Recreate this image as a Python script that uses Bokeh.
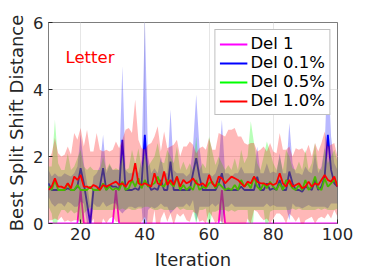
import numpy as np
from bokeh.plotting import figure
from bokeh.models import Legend, LegendItem, FixedTicker, Range1d
from bokeh.core.properties import value
from bokeh.embed import file_html
from bokeh.resources import INLINE

iterations = list(range(10, 101))

del1 = [0.0] * 91
for it in (20, 31, 64):
    del1[it - 10] = 1.0

del01 = [1.2, 1.0, 1.0, 1.0, 1.0, 1.0, 1.05, 1.0, 1.0, 1.1,
         1.65, 1.2, 0.6, 0.0, 1.0, 1.0, 1.1, 1.65, 1.0, 1.15,
         1.1, 1.1, 1.0, 2.5, 1.0, 1.0, 1.0, 1.05, 1.0, 1.2,
         2.65, 1.2, 1.0, 1.05, 1.0, 1.3, 1.0, 1.0, 1.85, 1.0,
         1.0, 1.0, 1.0, 1.0, 1.0, 1.5, 1.95, 1.4, 1.0, 1.0,
         1.0, 1.0, 1.0, 1.2, 1.5, 1.0, 1.0, 1.0, 1.0, 1.0,
         1.1, 1.0, 1.0, 1.0, 1.0, 1.4, 1.0, 1.0, 1.2, 1.0,
         1.05, 1.0, 1.3, 1.0, 1.0, 1.55, 1.2, 1.0, 1.0, 0.95,
         1.1, 1.05, 1.0, 1.3, 1.0, 1.1, 1.4, 2.65, 1.6, 1.2,
         1.1]
del05 = [1.1, 1.0, 1.3, 1.0, 1.0, 1.0, 1.2, 1.0, 1.0, 1.15,
         1.0, 1.0, 1.0, 1.1, 1.0, 1.0, 1.0, 1.2, 1.0, 1.1,
         1.0, 1.05, 1.0, 1.25, 1.0, 1.05, 1.3, 1.1, 1.35, 1.05,
         1.3, 1.1, 1.15, 1.2, 1.4, 1.15, 1.1, 1.3, 1.2, 1.1,
         1.4, 1.0, 1.15, 1.0, 1.1, 1.0, 1.3, 1.0, 1.1, 1.05,
         1.2, 1.25, 1.05, 1.2, 1.1, 1.0, 1.05, 1.0, 1.15, 1.0,
         1.3, 1.1, 1.2, 1.05, 1.4, 1.1, 1.0, 1.2, 1.05, 1.25,
         1.1, 1.0, 1.2, 1.0, 1.3, 1.2, 1.05, 1.0, 1.15, 1.0,
         1.3, 1.0, 1.1, 1.4, 1.05, 1.0, 1.35, 1.1, 1.2, 1.3,
         1.15]
del10 = [1.0, 1.1, 1.35, 1.1, 1.1, 1.05, 1.2, 1.05, 1.4, 1.3,
         1.45, 1.1, 1.1, 1.05, 1.15, 1.1, 1.0, 1.15, 1.1, 1.15,
         1.2, 1.25, 1.15, 1.2, 1.1, 1.25, 1.3, 1.8, 1.2, 1.15,
         1.2, 1.15, 1.1, 1.5, 1.2, 1.15, 1.55, 1.15, 1.3, 1.15,
         1.4, 1.1, 1.3, 1.2, 1.25, 1.35, 1.2, 1.15, 1.2, 1.1,
         1.45, 1.2, 1.1, 1.4, 1.35, 1.2, 1.3, 1.4, 1.35, 1.3,
         1.2, 1.1, 1.25, 1.2, 1.4, 1.25, 1.2, 1.2, 1.15, 1.2,
         1.15, 1.2, 1.5, 1.2, 1.1, 1.3, 1.1, 1.15, 1.2, 1.05,
         1.1, 1.25, 1.1, 1.2, 1.15, 1.3, 1.45, 1.3, 1.25, 1.4,
         1.1]

std01 = [0.4, 0.4, 0.5, 0.4, 0.4, 0.5, 0.4, 0.4, 0.5, 0.6,
         1.0, 0.6, 0.6, 0.5, 0.4, 0.5, 0.6, 1.0, 0.5, 0.6,
         0.5, 0.5, 0.6, 2.2, 0.6, 0.5, 0.5, 0.6, 0.5, 0.7,
         3.5, 0.8, 0.5, 0.6, 0.5, 0.7, 0.5, 0.5, 1.55, 0.6,
         0.5, 0.5, 0.5, 0.4, 0.5, 0.8, 1.9, 0.9, 0.5, 0.5,
         0.5, 0.4, 0.5, 0.6, 1.6, 0.5, 0.5, 0.4, 0.5, 0.5,
         0.6, 0.5, 0.5, 0.5, 0.5, 0.9, 0.5, 0.5, 0.6, 0.5,
         0.5, 0.5, 0.8, 0.5, 0.5, 1.45, 0.6, 0.5, 0.5, 0.5,
         0.6, 0.5, 0.5, 0.8, 0.5, 0.6, 0.9, 2.2, 1.0, 0.6,
         0.5]
std05 = [0.6, 0.7, 1.8, 0.8, 0.6, 0.6, 0.9, 0.6, 0.7, 0.8,
         1.2, 0.7, 0.6, 0.6, 0.6, 0.6, 0.6, 0.8, 0.6, 0.7,
         0.6, 0.6, 0.6, 0.8, 0.6, 0.6, 0.9, 0.7, 0.9, 0.6,
         0.8, 0.6, 0.7, 0.8, 1.0, 0.7, 0.7, 0.9, 0.8, 0.7,
         0.9, 0.6, 0.7, 0.6, 0.7, 0.6, 1.3, 0.6, 0.7, 0.6,
         1.4, 0.9, 0.7, 0.8, 0.7, 0.6, 0.7, 0.6, 0.8, 0.6,
         0.9, 0.7, 0.8, 2.0, 1.0, 0.7, 0.6, 0.8, 1.4, 0.9,
         0.7, 0.6, 0.8, 0.6, 0.9, 0.8, 0.6, 0.6, 0.7, 0.6,
         0.9, 0.6, 0.7, 1.0, 0.6, 0.6, 0.9, 0.7, 0.8, 0.9,
         0.7]
std10 = [0.9, 1.0, 1.2, 1.0, 0.9, 1.0, 1.1, 1.0, 1.3, 1.2,
         1.4, 1.2, 1.7, 1.1, 1.0, 1.6, 1.2, 1.0, 1.1, 1.0,
         1.0, 1.2, 1.1, 1.3, 1.7, 1.6, 1.4, 1.9, 1.3, 1.1,
         1.0, 1.2, 1.3, 1.1, 1.7, 1.0, 1.2, 1.1, 1.0, 1.2,
         1.1, 0.9, 1.0, 1.1, 1.2, 1.0, 0.9, 1.1, 1.1, 1.1,
         1.1, 1.0, 1.1, 1.3, 1.3, 1.4, 1.5, 1.4, 1.5, 1.3,
         1.4, 1.3, 1.1, 1.2, 1.0, 0.9, 1.0, 1.1, 1.0, 1.2,
         1.0, 0.9, 1.2, 1.0, 1.1, 1.0, 0.9, 1.1, 1.0, 1.2,
         1.0, 1.1, 0.9, 1.2, 1.0, 1.1, 1.3, 1.0, 1.1, 1.0,
         0.9]

labels = ["Del 1", "Del 0.1%", "Del 0.5%", "Del 1.0%"]
means = [del1, del01, del05, del10]
stds = [[0.0] * 91, std01, std05, std10]
colors = ["#ff00ff", "#0000ff", "#00ff00", "#ff0000"]

FONT = "DejaVu Sans"

p = figure(width=374, height=272, output_backend="svg", toolbar_location=None,
           x_range=Range1d(10, 100), y_range=Range1d(0, 6),
           min_border_left=48, min_border_right=37, min_border_top=22, min_border_bottom=49)
p.background_fill_color = "white"
p.border_fill_color = "white"
p.outline_line_color = "#262626"
p.outline_line_alpha = 0.6
p.outline_line_width = 1

items = []
x = np.array(iterations)
for lab, m, s, c in zip(labels, means, stds, colors):
    m = np.array(m)
    s = np.array(s)
    if s.max() > 0:
        p.varea(x=x, y1=m - s, y2=m + s, fill_color=c, fill_alpha=0.28)
    r = p.line(x=x, y=m, line_color=c, line_width=1.8)
    items.append(LegendItem(label=lab, renderers=[r]))

p.text(x=[15.3], y=[4.96], text=["Letter"], text_color="#ff0000",
       text_font=value(FONT), text_font_size="16.5px",
       text_align="left", text_baseline="middle")

for ax in (p.xaxis[0], p.yaxis[0]):
    ax.major_label_text_font = FONT
    ax.major_label_text_font_size = "16.5px"
    ax.major_label_text_color = "#262626"
    ax.axis_label_text_font = FONT
    ax.axis_label_text_font_size = "18px"
    ax.axis_label_text_font_style = "normal"
    ax.axis_label_text_color = "#262626"
    ax.axis_line_color = None
    ax.major_tick_in = 4
    ax.major_tick_out = 0
    ax.major_tick_line_color = "#262626"
    ax.minor_tick_line_color = None

p.xaxis.axis_label = "Iteration"
p.yaxis.axis_label = "Best Split Shift Distance"
p.xaxis.ticker = FixedTicker(ticks=[20, 40, 60, 80, 100])
p.yaxis.ticker = FixedTicker(ticks=[0, 2, 4, 6])
p.xaxis.major_label_standoff = 4
p.xaxis.axis_label_standoff = 6
p.yaxis.major_label_standoff = 5
p.yaxis.axis_label_standoff = 3

p.xgrid.grid_line_color = "#e6e6e6"
p.ygrid.grid_line_color = "#e6e6e6"

legend = Legend(items=items, location="top_right")
legend.margin = 7
legend.padding = 4
legend.spacing = 0
legend.glyph_width = 28
legend.glyph_height = 18
legend.label_height = 18
legend.label_standoff = 3
legend.label_text_font = FONT
legend.label_text_font_size = "16.5px"
legend.label_text_color = "#000000"
legend.border_line_color = "#808080"
legend.border_line_width = 1
legend.background_fill_color = "white"
legend.background_fill_alpha = 1.0
p.add_layout(legend, "center")

open("out.html", "w").write(file_html(p, INLINE))
